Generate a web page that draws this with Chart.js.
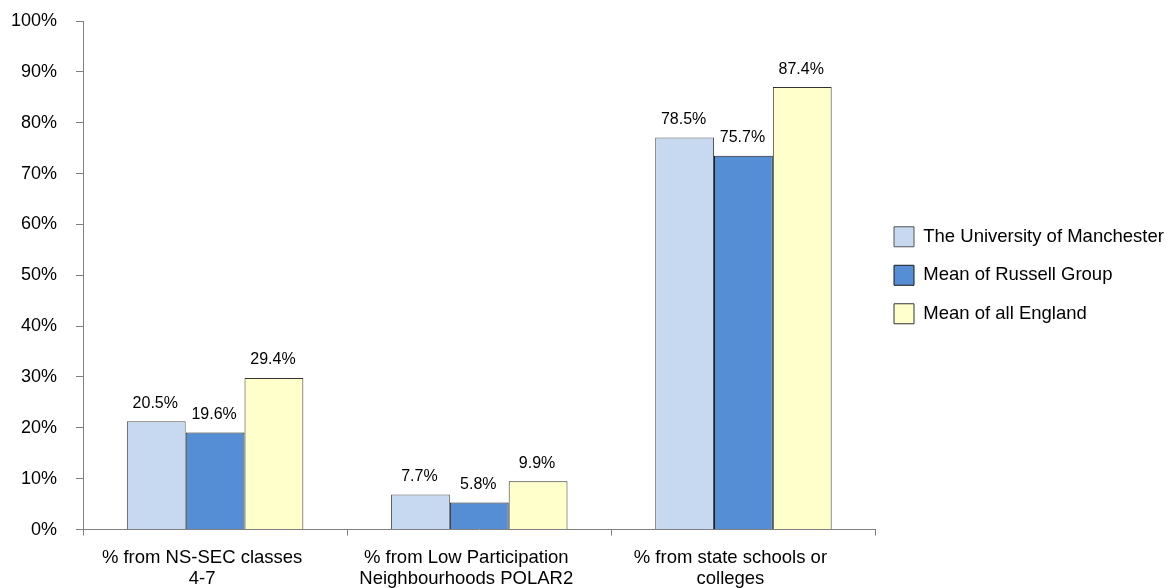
<!DOCTYPE html>
<html>
<head>
<meta charset="utf-8">
<script src="https://cdn.jsdelivr.net/npm/chart.js@4.4.1/dist/chart.umd.min.js"></script>
<style>
  html, body { margin: 0; padding: 0; background: #ffffff; overflow: hidden; }
  #wrap { width: 1167px; height: 588px; position: relative; overflow: hidden; }
</style>
</head>
<body>
<div id="wrap"><canvas id="c" width="1167" height="601"></canvas></div>
<script>
const categories = [
  ["% from NS-SEC classes", "4-7"],
  ["% from Low Participation", "Neighbourhoods POLAR2"],
  ["% from state schools or", "colleges"]
];
const seriesNames = ["The University of Manchester", "Mean of Russell Group", "Mean of all England"];
// bar heights as drawn in the picture (percent)
const manchesterBars = [21.3, 6.9, 77.1];
const russellBars = [19.1, 5.3, 73.5];
const englandBars = [29.8, 9.5, 87.0];
// printed data labels
const manchesterLabels = ["20.5%", "7.7%", "78.5%"];
const russellLabels = ["19.6%", "5.8%", "75.7%"];
const englandLabels = ["29.4%", "9.9%", "87.4%"];
const yTicks = [0, 10, 20, 30, 40, 50, 60, 70, 80, 90, 100];

const FONT = "'Liberation Sans', Arial, Helvetica, sans-serif";
const axisColor = '#808080';

const valueLabels = {
  id: 'valueLabels',
  afterDatasetsDraw(chart) {
    const ctx = chart.ctx;
    ctx.save();
    ctx.font = "16px " + FONT;
    ctx.fillStyle = '#000';
    ctx.textAlign = 'center';
    ctx.textBaseline = 'middle';
    chart.data.datasets.forEach((ds, di) => {
      const meta = chart.getDatasetMeta(di);
      meta.data.forEach((bar, i) => {
        ctx.fillText(ds.labelTexts[i], bar.x - 1, bar.y - 18);
      });
    });
    ctx.restore();
  }
};

new Chart(document.getElementById('c'), {
  type: 'bar',
  data: {
    labels: categories,
    datasets: [
      { label: seriesNames[0], data: manchesterBars, labelTexts: manchesterLabels,
        backgroundColor: '#c6d9f1', borderColor: '#555555', borderWidth: 1 },
      { label: seriesNames[1], data: russellBars, labelTexts: russellLabels,
        backgroundColor: '#558ed5', borderColor: '#1a1a1a', borderWidth: 1 },
      { label: seriesNames[2], data: englandBars, labelTexts: englandLabels,
        backgroundColor: '#ffffcc', borderColor: '#333333', borderWidth: 1 }
    ]
  },
  options: {
    responsive: false,
    animation: false,
    devicePixelRatio: 1,
    layout: { padding: { top: 21, left: -8, right: -3, bottom: 0 } },
    datasets: { bar: { barPercentage: 1.0, categoryPercentage: 0.668 } },
    plugins: {
      tooltip: { enabled: false },
      legend: {
        position: 'right',
        fullSize: false,
        labels: {
          boxWidth: 20, boxHeight: 20, padding: 18.5,
          color: '#000',
          font: { family: FONT, size: 18.5 },
          generateLabels(chart) {
            return chart.data.datasets.map((ds, i) => ({
              text: ds.label, fillStyle: ds.backgroundColor, strokeStyle: ds.borderColor,
              lineWidth: 1, hidden: false, datasetIndex: i, fontColor: '#000'
            }));
          }
        }
      }
    },
    scales: {
      x: {
        grid: { display: true, drawOnChartArea: false, drawTicks: true, tickLength: 6, color: axisColor, offset: true },
        border: { color: axisColor, width: 1 },
        ticks: { color: '#000', font: { family: FONT, size: 18.5, lineHeight: 1.12 }, padding: 12, labelOffset: -13, maxRotation: 0, autoSkip: false }
      },
      y: {
        min: 0, max: 100,
        afterBuildTicks(axis) { axis.ticks = yTicks.map(v => ({ value: v })); },
        afterFit(axis) { axis.paddingTop = 0; axis.paddingBottom = 0; },
        grid: { display: true, drawOnChartArea: false, drawTicks: true, tickLength: 7, color: axisColor },
        border: { color: axisColor, width: 1 },
        ticks: { color: '#000', font: { family: FONT, size: 18 }, padding: 19, callback: v => v + '%' }
      }
    }
  },
  plugins: [valueLabels]
});
</script>
</body>
</html>
